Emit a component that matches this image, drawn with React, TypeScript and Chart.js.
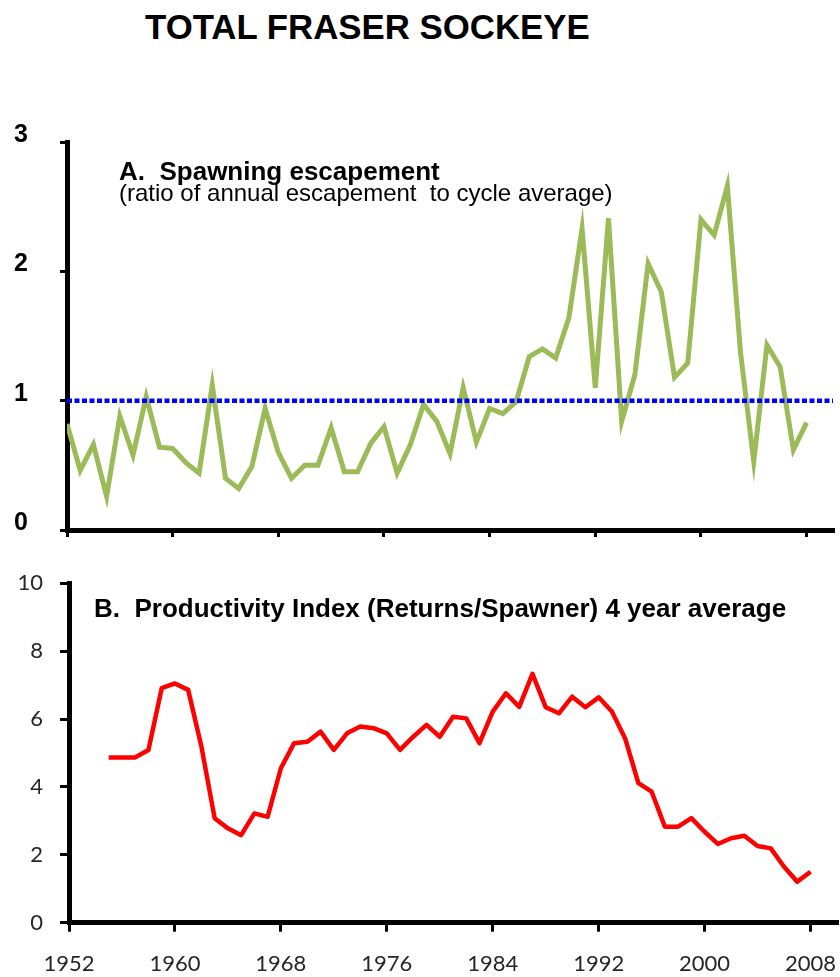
import React, { useEffect, useRef } from 'react';
import { Chart, registerables } from 'chart.js';

Chart.register(...registerables);

// ---- Data ----
const escYears = [
  1952, 1953, 1954, 1955, 1956, 1957, 1958, 1959, 1960, 1961,
  1962, 1963, 1964, 1965, 1966, 1967, 1968, 1969, 1970, 1971,
  1972, 1973, 1974, 1975, 1976, 1977, 1978, 1979, 1980, 1981,
  1982, 1983, 1984, 1985, 1986, 1987, 1988, 1989, 1990, 1991,
  1992, 1993, 1994, 1995, 1996, 1997, 1998, 1999, 2000, 2001,
  2002, 2003, 2004, 2005, 2006, 2007, 2008,
];
const escapement = [
  0.82, 0.46, 0.66, 0.26, 0.88, 0.58, 1.03, 0.64, 0.63, 0.52,
  0.44, 1.12, 0.40, 0.32, 0.49, 0.94, 0.60, 0.40, 0.50, 0.50,
  0.79, 0.45, 0.45, 0.67, 0.80, 0.44, 0.66, 0.97, 0.84, 0.59,
  1.10, 0.68, 0.94, 0.90, 0.99, 1.34, 1.40, 1.33, 1.64, 2.33,
  1.10, 2.41, 0.84, 1.20, 2.06, 1.84, 1.18, 1.29, 2.40, 2.28,
  2.66, 1.37, 0.53, 1.43, 1.26, 0.62, 0.83,
];
const cycleYears = [1952, 2010];
const cycleAverage = [1, 1];

const prodYears = [
  1955, 1956, 1957, 1958, 1959, 1960, 1961, 1962, 1963, 1964,
  1965, 1966, 1967, 1968, 1969, 1970, 1971, 1972, 1973, 1974,
  1975, 1976, 1977, 1978, 1979, 1980, 1981, 1982, 1983, 1984,
  1985, 1986, 1987, 1988, 1989, 1990, 1991, 1992, 1993, 1994,
  1995, 1996, 1997, 1998, 1999, 2000, 2001, 2002, 2003, 2004,
  2005, 2006, 2007, 2008,
];
const productivity = [
  4.87, 4.87, 4.87, 5.09, 6.91, 7.05, 6.86, 5.19, 3.08, 2.78,
  2.58, 3.22, 3.12, 4.55, 5.29, 5.33, 5.63, 5.09, 5.58, 5.78,
  5.73, 5.58, 5.09, 5.48, 5.83, 5.48, 6.07, 6.02, 5.29, 6.22,
  6.76, 6.36, 7.33, 6.35, 6.17, 6.66, 6.35, 6.64, 6.22, 5.43,
  4.11, 3.86, 2.83, 2.83, 3.08, 2.68, 2.32, 2.49, 2.56, 2.26,
  2.19, 1.65, 1.21, 1.50,
];

const yearTicks = [1952, 1960, 1968, 1976, 1984, 1992, 2000, 2008];
const yearLabels = ['1952', '1960', '1968', '1976', '1984', '1992', '2000', '2008'];
const escTicks = [0, 1, 2, 3];
const escLabels = ['0', '1', '2', '3'];
const prodTicks = [0, 2, 4, 6, 8, 10];
const prodLabels = ['0', '2', '4', '6', '8', '10'];

const TITLE = 'TOTAL FRASER SOCKEYE';
const PANEL_A = 'A.  Spawning escapement';
const PANEL_A_SUB = '(ratio of annual escapement  to cycle average)';
const PANEL_B = 'B.  Productivity Index (Returns/Spawner) 4 year average';

type TextLine = { text: string; font: string; dx: number; dy: number };

const panelTextPlugin = (lines: TextLine[]) => ({
  id: 'panelText',
  afterDraw(chart: any) {
    const { ctx, chartArea } = chart;
    ctx.save();
    ctx.fillStyle = '#000';
    ctx.textAlign = 'left';
    ctx.textBaseline = 'alphabetic';
    lines.forEach((l) => {
      ctx.font = l.font;
      ctx.fillText(l.text, chartArea.left + l.dx, chartArea.top + l.dy);
    });
    ctx.restore();
  },
});

const gridOpts = (tl: number) => ({
  drawOnChartArea: false,
  drawTicks: true,
  tickLength: tl,
  color: '#000',
  lineWidth: 3,
});
const borderOpts = { display: true, color: '#000', width: 5 };

const fitX = (h: number) => (s: any) => {
  s.height = h;
  s.paddingLeft = 0;
  s.paddingRight = 0;
};
const fitY = (w: number) => (s: any) => {
  s.width = w;
  s.paddingTop = 0;
  s.paddingBottom = 0;
};

export default function App() {
  const topRef = useRef<HTMLCanvasElement | null>(null);
  const botRef = useRef<HTMLCanvasElement | null>(null);

  useEffect(() => {
    const top = new Chart(topRef.current as HTMLCanvasElement, {
      type: 'line',
      data: {
        datasets: [
          {
            data: cycleYears.map((x, i) => ({ x, y: cycleAverage[i] })),
            borderColor: '#0000FF',
            borderWidth: 4.5,
            borderDash: [5, 2.5],
            borderCapStyle: 'butt',
            pointRadius: 0,
          },
          {
            data: escYears.map((x, i) => ({ x, y: escapement[i] })),
            borderColor: '#9BBB59',
            borderWidth: 5,
            pointRadius: 0,
            tension: 0,
          },
        ],
      },
      options: {
        responsive: false,
        animation: false,
        events: [],
        layout: { padding: { top: 42, right: 7, left: 0, bottom: 0 } },
        plugins: { legend: { display: false }, tooltip: { enabled: false } },
        scales: {
          x: {
            type: 'linear',
            min: 1952,
            max: 2010,
            afterFit: fitX(30),
            afterBuildTicks: (s: any) => { s.ticks = yearTicks.map((v) => ({ value: v })); },
            ticks: { callback: () => '', autoSkip: false, padding: 0 },
            grid: gridOpts(7),
            border: borderOpts,
          },
          y: {
            min: 0,
            max: 3,
            afterFit: fitY(67),
            afterBuildTicks: (s: any) => { s.ticks = escTicks.map((v) => ({ value: v })); },
            ticks: {
              callback: (_v: any, i: number) => escLabels[i],
              font: { family: 'Liberation Sans', size: 25, weight: 'bold' },
              color: '#000',
              padding: 32,
              labelOffset: -7,
            },
            grid: gridOpts(7),
            border: borderOpts,
          },
        },
      },
      plugins: [
        panelTextPlugin([
          { text: PANEL_A, font: 'bold 26px "Liberation Sans"', dx: 52, dy: 37.5 },
          { text: PANEL_A_SUB, font: '24px "Liberation Sans"', dx: 52, dy: 59 },
        ]),
      ],
    } as any);

    const bot = new Chart(botRef.current as HTMLCanvasElement, {
      type: 'line',
      data: {
        datasets: [
          {
            data: prodYears.map((x, i) => ({ x, y: productivity[i] })),
            borderColor: '#FF0000',
            borderWidth: 4.5,
            borderJoinStyle: 'round',
            pointRadius: 0,
            tension: 0,
          },
        ],
      },
      options: {
        responsive: false,
        animation: false,
        events: [],
        layout: { padding: { top: 23.3, right: 3, left: 0, bottom: 0 } },
        plugins: { legend: { display: false }, tooltip: { enabled: false } },
        scales: {
          x: {
            type: 'linear',
            min: 1952,
            max: 2010,
            afterFit: fitX(54.3),
            afterBuildTicks: (s: any) => { s.ticks = yearTicks.map((v) => ({ value: v })); },
            ticks: {
              callback: (_v: any, i: number) => yearLabels[i],
              autoSkip: false,
              maxRotation: 0,
              font: { family: 'Lato', size: 22 },
              color: '#262626',
              padding: 19,
            },
            grid: gridOpts(9),
            border: borderOpts,
          },
          y: {
            min: 0,
            max: 10,
            afterFit: fitY(69),
            afterBuildTicks: (s: any) => { s.ticks = prodTicks.map((v) => ({ value: v })); },
            ticks: {
              callback: (_v: any, i: number) => prodLabels[i],
              font: { family: 'Lato', size: 22 },
              color: '#262626',
              padding: 17,
            },
            grid: gridOpts(9),
            border: borderOpts,
          },
        },
      },
      plugins: [
        panelTextPlugin([
          { text: PANEL_B, font: 'bold 26px "Liberation Sans"', dx: 25, dy: 33.4 },
        ]),
      ],
    } as any);

    return () => {
      top.destroy();
      bot.destroy();
    };
  }, []);

  return (
    <div style={{ position: 'absolute', left: 0, top: 0, width: 840, height: 977, background: '#fff', overflow: 'hidden' }}>
      <div
        style={{
          position: 'absolute',
          left: 145,
          top: 10,
          fontFamily: '"Liberation Sans", Arial, sans-serif',
          fontWeight: 'bold',
          fontSize: 34.8,
          lineHeight: '34px',
          color: '#000',
          whiteSpace: 'nowrap',
        }}
      >
        {TITLE}
      </div>
      <canvas ref={topRef} width={840} height={460} style={{ position: 'absolute', left: 0, top: 100, width: 840, height: 460 }} />
      <canvas ref={botRef} width={840} height={417} style={{ position: 'absolute', left: 0, top: 560, width: 840, height: 417 }} />
    </div>
  );
}
